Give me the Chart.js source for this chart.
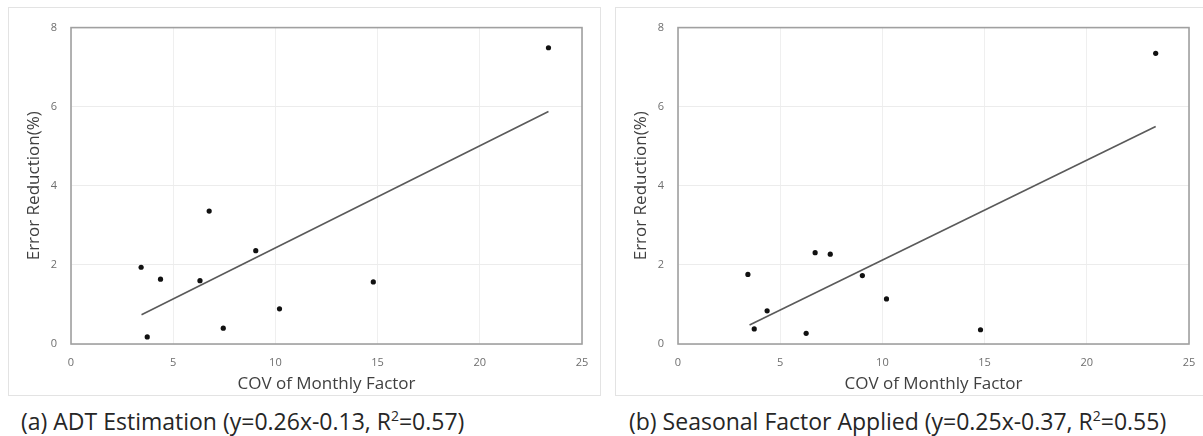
<!DOCTYPE html>
<html>
<head>
<meta charset="utf-8">
<script src="https://cdn.jsdelivr.net/npm/chart.js@4"></script>
<style>
  html, body { margin: 0; padding: 0; background: #fff; overflow: hidden; }
  body { width: 1203px; height: 436px; position: relative; font-family: "Open Sans", sans-serif; }
  .panel { position: absolute; top: 7px; width: 593px; height: 389px; border: 1px solid #e3e3e3; box-sizing: border-box; }
  .panel canvas { position: absolute; left: -1px; top: -1px; }
  .caption { position: absolute; top: 405px; font-size: 23px; color: #262626; white-space: nowrap; }
  .caption sup { font-size: 14px; line-height: 0; }
</style>
</head>
<body>
  <div class="panel" style="left:8px"><canvas id="chartA" width="593" height="389"></canvas></div>
  <div class="panel" style="left:615px"><canvas id="chartB" width="593" height="389"></canvas></div>
  <div class="caption" style="left:21px">(a) ADT Estimation (y=0.26x-0.13, R<sup>2</sup>=0.57)</div>
  <div class="caption" style="left:629px">(b) Seasonal Factor Applied (y=0.25x-0.37, R<sup>2</sup>=0.55)</div>
<script>
  // COV of monthly factor (x) and error reduction % (y)
  const covA = [3.43, 3.73, 4.38, 6.31, 6.76, 7.45, 9.04, 10.2, 14.79, 23.36];
  const errA = [1.94, 0.18, 1.64, 1.60, 3.36, 0.40, 2.36, 0.89, 1.57, 7.49];
  const trendA = [[3.45, 0.74], [23.36, 5.88]];

  const covB = [3.42, 3.73, 4.36, 6.27, 6.71, 7.45, 9.02, 10.2, 14.8, 23.37];
  const errB = [1.76, 0.38, 0.84, 0.27, 2.31, 2.27, 1.73, 1.14, 0.36, 7.35];
  const trendB = [[3.5, 0.48], [23.37, 5.50]];

  const xTitle = 'COV of Monthly Factor';
  const yTitle = 'Error Reduction(%)';

  const frame = {
    id: 'frame',
    beforeDatasetsDraw(chart) {
      const a = chart.chartArea;
      const ctx = chart.ctx;
      ctx.save();
      ctx.strokeStyle = '#a0a0a0';
      ctx.lineWidth = 1.6;
      ctx.strokeRect(a.left, a.top, a.right - a.left, a.bottom - a.top);
      ctx.restore();
    }
  };

  function makeChart(id, xs, ys, trend) {
    const pts = xs.map((x, i) => ({ x: x, y: ys[i] }));
    const line = trend.map(p => ({ x: p[0], y: p[1] }));
    return new Chart(document.getElementById(id), {
      type: 'scatter',
      data: {
        datasets: [
          {
            data: pts,
            backgroundColor: '#111',
            borderColor: '#111',
            pointRadius: 2.6,
            pointBorderWidth: 0
          },
          {
            type: 'line',
            data: line,
            borderColor: '#5a5a5a',
            borderWidth: 1.6,
            pointRadius: 0,
            fill: false
          }
        ]
      },
      options: {
        responsive: false,
        animation: false,
        layout: { padding: { top: 10, right: 19, left: 0, bottom: 0 } },
        plugins: { legend: { display: false }, tooltip: { enabled: false } },
        scales: {
          x: {
            type: 'linear', min: 0, max: 25,
            afterFit: s => { s.height = 52; },
            ticks: { stepSize: 5, padding: 12, color: '#6e6e6e', font: { family: 'Open Sans', size: 11 } },
            grid: { color: '#efefef', drawTicks: false },
            border: { display: false },
            title: { display: true, text: xTitle, color: '#404040', padding: { top: 0, bottom: 2 }, font: { family: 'Open Sans', size: 17 } }
          },
          y: {
            min: 0, max: 8,
            afterFit: s => { s.width = 63; },
            ticks: { stepSize: 2, padding: 14, color: '#6e6e6e', font: { family: 'Open Sans', size: 11 } },
            grid: { color: '#ececec', drawTicks: false },
            border: { display: false },
            title: { display: true, text: yTitle, color: '#404040', padding: { top: 16, bottom: 0 }, font: { family: 'Open Sans', size: 17 } }
          }
        }
      },
      plugins: [frame]
    });
  }

  makeChart('chartA', covA, errA, trendA);
  makeChart('chartB', covB, errB, trendB);
</script>
</body>
</html>
